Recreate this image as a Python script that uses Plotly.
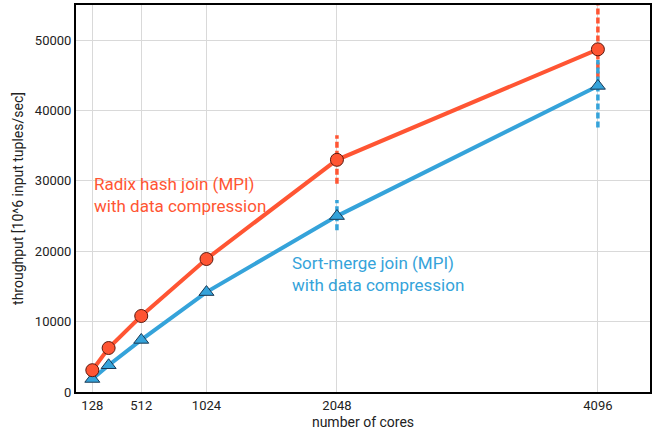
import plotly.graph_objects as go

cores = [128, 256, 512, 1024, 2048, 4096]
radix = [3100, 6250, 10800, 18900, 33000, 48700]
sortmerge = [1850, 3800, 7400, 14200, 25000, 43500]

err_x = [2048, 4096]
radix_err_hi = [36500, 56000]
radix_err_lo = [29600, 44700]
sm_err_hi = [27300, 47200]
sm_err_lo = [23000, 37600]

tick_vals = [128, 512, 1024, 2048, 4096]
y_ticks = [0, 10000, 20000, 30000, 40000, 50000]

RED = "#FF5533"
BLUE = "#35A3DA"
FONT = "Roboto, sans-serif"

def err_segments(xs, lo, hi):
    X, Y = [], []
    for x, l, h in zip(xs, lo, hi):
        X += [x, x, None]
        Y += [l, h, None]
    return X, Y

fig = go.Figure()
ex, ey = err_segments(err_x, radix_err_lo, radix_err_hi)
fig.add_trace(go.Scatter(x=ex, y=ey, mode="lines",
                         line=dict(color=RED, width=3.5, dash="6px,3px"), showlegend=False))
ex, ey = err_segments(err_x, sm_err_lo, sm_err_hi)
fig.add_trace(go.Scatter(x=ex, y=ey, mode="lines",
                         line=dict(color=BLUE, width=3.5, dash="6px,3px"), showlegend=False))

fig.add_trace(go.Scatter(x=cores, y=sortmerge, mode="lines+markers",
                         line=dict(color=BLUE, width=4),
                         marker=dict(symbol="triangle-up", size=13, color=BLUE,
                                     line=dict(color="#1a3a55", width=1)),
                         showlegend=False))
fig.add_trace(go.Scatter(x=cores, y=radix, mode="lines+markers",
                         line=dict(color=RED, width=4),
                         marker=dict(symbol="circle", size=13, color=RED,
                                     line=dict(color="#5a1a10", width=1)),
                         showlegend=False))

fig.add_annotation(x=128, y=28000, xref="x", yref="y", xanchor="left", yanchor="middle",
                   text="Radix hash join (MPI)<br>with data compression", showarrow=False,
                   align="left", font=dict(family=FONT, size=17, color=RED))
fig.add_annotation(x=1680, y=16700, xref="x", yref="y", xanchor="left", yanchor="middle",
                   text="Sort-merge join (MPI)<br>with data compression", showarrow=False,
                   align="left", font=dict(family=FONT, size=17, color=BLUE))

fig.update_layout(
    width=657, height=437,
    margin=dict(l=76, r=7, t=5, b=45),
    plot_bgcolor="white", paper_bgcolor="white",
    font=dict(family=FONT, size=13, color="#222"),
    xaxis=dict(range=[0, 4505], tickvals=tick_vals, ticktext=[str(v) for v in tick_vals],
               showgrid=True, gridcolor="#d9d9d9", gridwidth=1, zeroline=False,
               showline=True, linecolor="black", linewidth=2, mirror=True,
               title=dict(text="number of cores", font=dict(size=14), standoff=6),
               ticks="", automargin=False),
    yaxis=dict(range=[0, 55000], tickvals=y_ticks, ticktext=[str(v) for v in y_ticks],
               showgrid=True, gridcolor="#d9d9d9", gridwidth=1, zeroline=False,
               showline=True, linecolor="black", linewidth=2, mirror=True,
               title=dict(text="throughput [10^6 input tuples/sec]", font=dict(size=14), standoff=8),
               ticks="", automargin=False),
)

fig.write_html("out.html", config={"displayModeBar": False},
               post_script="document.body.style.margin='0';")
